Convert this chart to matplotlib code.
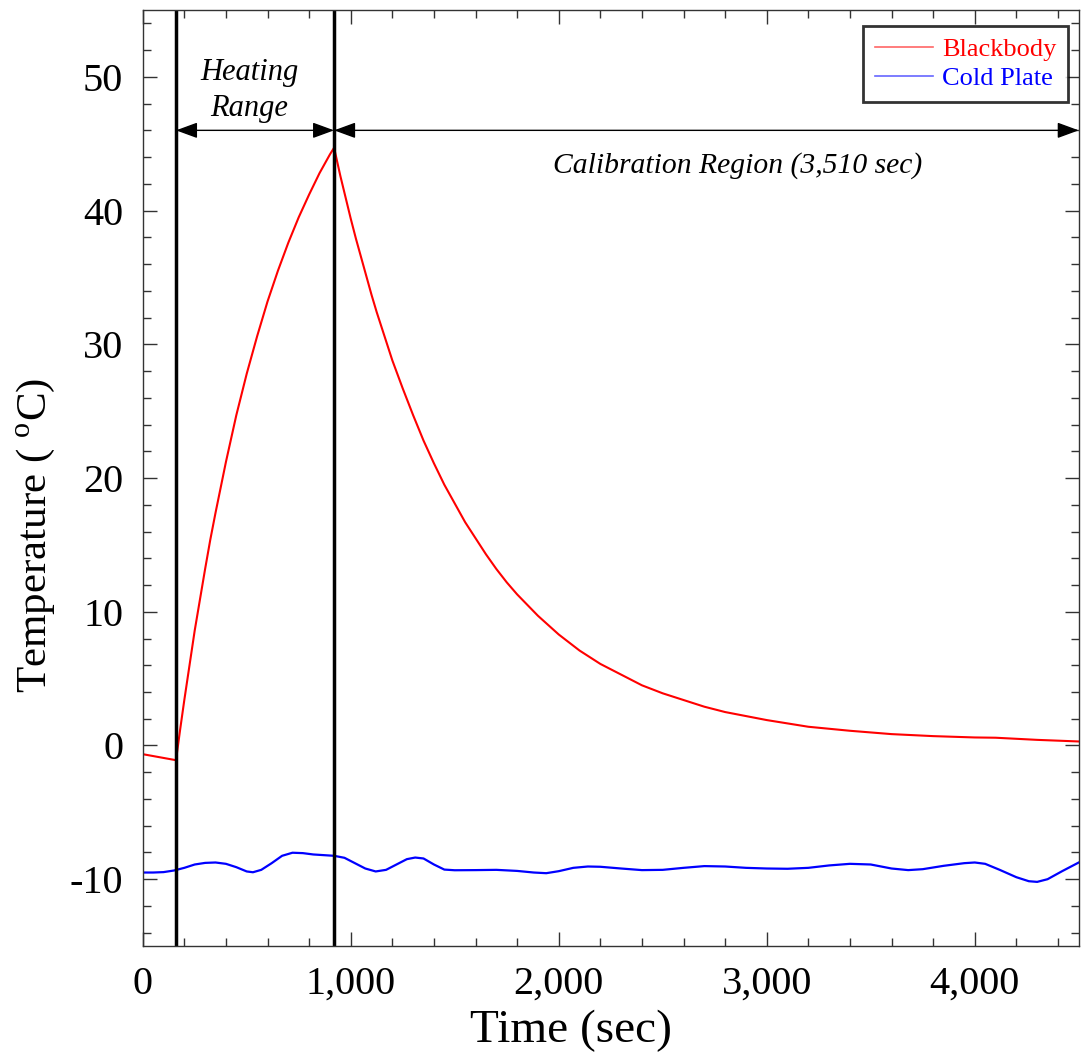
import matplotlib
matplotlib.use("Agg")
import matplotlib.pyplot as plt
from matplotlib.ticker import FuncFormatter, MultipleLocator

plt.rcParams["font.family"] = ["Liberation Serif", "DejaVu Serif"]
plt.rcParams["mathtext.fontset"] = "custom"
plt.rcParams["mathtext.rm"] = "Liberation Serif"
plt.rcParams["axes.unicode_minus"] = False

# blackbody temperature (deg C) vs time (sec)
bb_time = [0, 160, 180, 200, 225, 250, 275, 300, 325, 350, 400, 450, 500, 550,
           600, 650, 700, 750, 800, 850, 900, 920, 950, 975, 1000, 1025, 1050,
           1075, 1100, 1125, 1150, 1175, 1200, 1250, 1300, 1350, 1400, 1450,
           1500, 1550, 1600, 1650, 1700, 1750, 1800, 1900, 2000, 2100, 2200,
           2300, 2400, 2500, 2600, 2700, 2800, 2900, 3000, 3200, 3400, 3600,
           3800, 4000, 4100, 4200, 4300, 4400, 4500]
bb_temp = [-0.65, -1.1, 1.2, 3.4, 6.0, 8.6, 10.9, 13.2, 15.4, 17.4, 21.2, 24.7,
           27.8, 30.6, 33.2, 35.5, 37.6, 39.5, 41.2, 42.8, 44.2, 44.7, 42.6,
           41.0, 39.4, 37.9, 36.5, 35.1, 33.7, 32.4, 31.2, 30.0, 28.8, 26.7,
           24.7, 22.8, 21.1, 19.5, 18.1, 16.7, 15.5, 14.3, 13.2, 12.2, 11.3,
           9.7, 8.3, 7.1, 6.1, 5.3, 4.5, 3.9, 3.4, 2.9, 2.5, 2.2, 1.9, 1.4,
           1.1, 0.85, 0.7, 0.6, 0.58, 0.5, 0.42, 0.36, 0.3]

# cold plate temperature
cp_time = [0, 50, 100, 150, 200, 250, 300, 350, 400, 450, 500, 530, 570, 620,
           670, 720, 770, 820, 870, 920, 970, 1020, 1070, 1120, 1170, 1220,
           1270, 1310, 1350, 1400, 1450, 1500, 1600, 1700, 1800, 1880, 1940,
           2000, 2070, 2140, 2200, 2300, 2400, 2500, 2600, 2700, 2800, 2900,
           3000, 3100, 3200, 3300, 3400, 3500, 3600, 3680, 3750, 3850, 3950,
           4000, 4050, 4120, 4200, 4260, 4300, 4350, 4420, 4500]
cp_temp = [-9.5, -9.5, -9.47, -9.35, -9.15, -8.9, -8.78, -8.75, -8.85, -9.1,
           -9.42, -9.48, -9.3, -8.8, -8.25, -8.02, -8.05, -8.15, -8.2, -8.25,
           -8.4, -8.8, -9.2, -9.42, -9.3, -8.9, -8.5, -8.38, -8.45, -8.9,
           -9.28, -9.33, -9.32, -9.3, -9.38, -9.5, -9.55, -9.4, -9.15, -9.05,
           -9.07, -9.2, -9.32, -9.3, -9.15, -9.02, -9.05, -9.15, -9.2, -9.22,
           -9.15, -8.97, -8.85, -8.9, -9.2, -9.32, -9.25, -9.0, -8.8, -8.75,
           -8.85, -9.3, -9.85, -10.15, -10.2, -10.0, -9.4, -8.75]

heat_start = 160
heat_end = 920
arrow_y = 46

fig = plt.figure(figsize=(10.82, 10.63), dpi=100)
ax = fig.add_axes([0.1319, 0.110, 0.8651, 0.8806])

ax.plot(bb_time, bb_temp, color="red", lw=1.5, label="Blackbody")
ax.plot(cp_time, cp_temp, color="blue", lw=1.6, label="Cold Plate")

ax.axvline(heat_start, color="black", lw=2.5)
ax.axvline(heat_end, color="black", lw=2.5)

arr = dict(arrowstyle="<|-|>,head_length=0.6,head_width=0.22", color="black",
           lw=1.0, mutation_scale=22, shrinkA=0, shrinkB=0)
ax.annotate("", xy=(heat_start, arrow_y), xytext=(heat_end, arrow_y),
            arrowprops=arr)
ax.annotate("", xy=(heat_end, arrow_y), xytext=(4500, arrow_y),
            arrowprops=arr)
ax.text(512, 49.0, "Heating\nRange", style="italic", fontsize=22,
        ha="center", va="center", linespacing=1.3)
ax.text(2860, 43.4, "Calibration Region (3,510 sec)", style="italic",
        fontsize=21.3, ha="center", va="center")

ax.set_xlim(0, 4500)
ax.set_ylim(-15, 55)
ax.xaxis.set_major_locator(MultipleLocator(1000))
ax.xaxis.set_minor_locator(MultipleLocator(200))
ax.yaxis.set_major_locator(MultipleLocator(10))
ax.yaxis.set_minor_locator(MultipleLocator(2))
ax.xaxis.set_major_formatter(FuncFormatter(lambda v, p: f"{v:,.0f}"))
ax.tick_params(which="both", direction="in", top=True, right=True,
               labelsize=29, color="#333333")
ax.tick_params(axis="x", which="major", length=10, width=1.0, pad=14)
ax.tick_params(axis="y", which="major", length=10, width=1.0, pad=14)
ax.tick_params(which="minor", length=6, width=1.0)
for s in ax.spines.values():
    s.set_linewidth(1.0)
    s.set_color("#333333")

ax.set_xlabel("Time (sec)", fontsize=34)
ax.xaxis.set_label_coords(0.458, -0.068)
ax.set_ylabel("Temperature ( $^{\\mathrm{o}}$C)", fontsize=31)
ax.yaxis.set_label_coords(-0.092, 0.439)

leg = ax.legend(loc="upper right", fontsize=19, frameon=True, fancybox=False,
                labelcolor="linecolor", handlelength=2.2, handletextpad=0.35,
                borderpad=0.45, labelspacing=0.2, borderaxespad=0,
                bbox_to_anchor=(0.989, 0.983))
leg.get_frame().set_edgecolor("black")
leg.get_frame().set_linewidth(2.0)
for h in leg.get_lines():
    h.set_alpha(0.6)
    h.set_linewidth(1.2)

fig.savefig("out.png", dpi=100)
